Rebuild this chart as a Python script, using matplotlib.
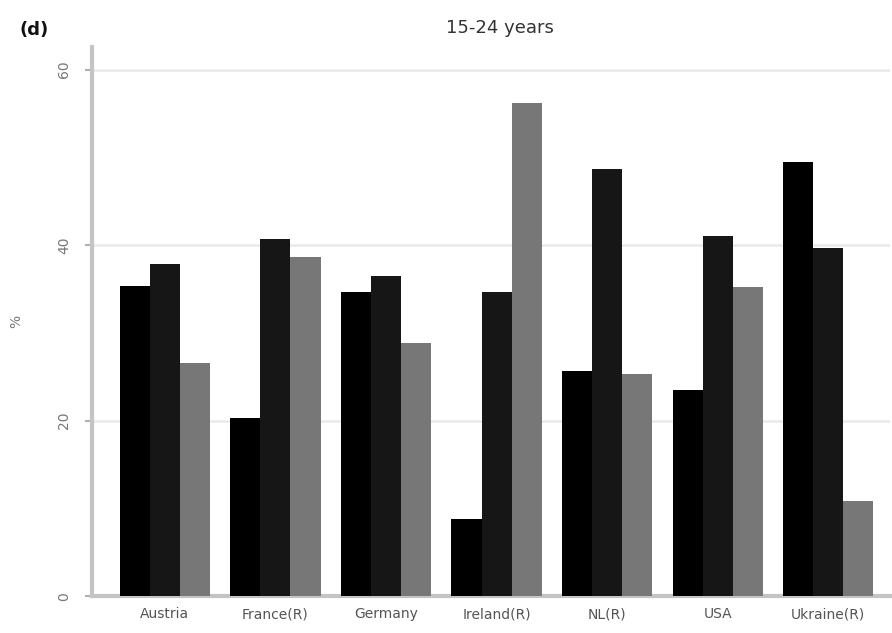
import matplotlib
matplotlib.use("Agg")
import matplotlib.pyplot as plt
import numpy as np

countries = ["Austria", "France(R)", "Germany", "Ireland(R)", "NL(R)", "USA", "Ukraine(R)"]
series1 = [35.3, 20.3, 34.7, 8.8, 25.7, 23.5, 49.5]
series2 = [37.9, 40.7, 36.5, 34.7, 48.7, 41.0, 39.7]
series3 = [26.6, 38.7, 28.9, 56.2, 25.3, 35.2, 10.9]
yticks = [0, 20, 40, 60]
colors = ["#000000", "#161616", "#777777"]

fig = plt.figure(figsize=(8.92, 6.33), dpi=100)
ax = fig.add_axes([0.103, 0.058, 0.895, 0.868])

x = np.arange(len(countries))
w = 0.272
for i, (vals, c) in enumerate(zip([series1, series2, series3], colors)):
    ax.bar(x + (i - 1) * w, vals, width=w, color=c, edgecolor="none", zorder=3)

ax.set_xlim(-0.66, 6.56)
ax.set_ylim(0, 62.6)
ax.set_yticks(yticks)
ax.set_yticklabels([str(t) for t in yticks], rotation=90, va="center", color="#777777", fontsize=10)
ax.yaxis.grid(True, color="#ebebeb", linewidth=2, zorder=0)
ax.set_xticks(x)
ax.set_xticklabels(countries, fontsize=10, color="#555555")
ax.tick_params(axis="x", length=0, pad=8)
ax.tick_params(axis="y", length=5, width=1.5, color="#b0b0b0", pad=10)
for s in ["top", "right"]:
    ax.spines[s].set_visible(False)
ax.spines["left"].set_color("#c4c4c4")
ax.spines["left"].set_linewidth(3)
ax.spines["bottom"].set_color("#c4c4c4")
ax.spines["bottom"].set_linewidth(3)
ax.set_ylabel("%", color="#777777", fontsize=10, rotation=90, labelpad=24)

fig.text(0.56, 0.955, "15-24 years", ha="center", va="center", fontsize=13, color="#333333")
fig.text(0.022, 0.952, "(d)", ha="left", va="center", fontsize=13, fontweight="bold", color="#111111")

fig.savefig("out.png", dpi=100)
